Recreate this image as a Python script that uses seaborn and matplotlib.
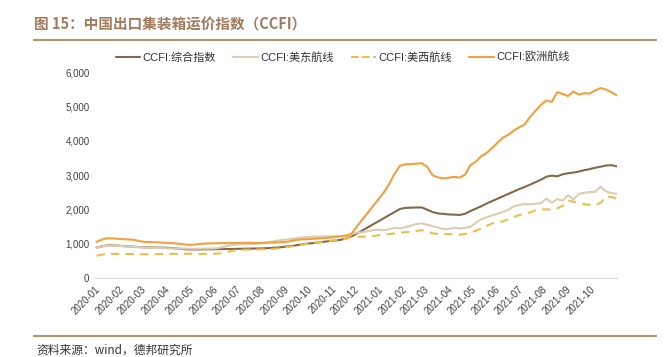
import numpy as np
import pandas as pd
import matplotlib
matplotlib.use('Agg')
import matplotlib.pyplot as plt
import matplotlib.dates as mdates
from matplotlib.lines import Line2D
import seaborn as sns

# weekly CCFI readings, first week of 2020 to early Nov 2021
dates = pd.date_range('2020-01-03', periods = 97, freq = '7D')

composite = [895, 930, 960, 958, 950, 940, 930, 920, 910, 902, 898, 895, 893, 890, 880, 865, 850, 842, 840, 842,
             845, 846, 848, 850, 852, 855, 858, 862, 865, 868, 870, 875, 882, 892, 905, 925, 945, 965, 990, 1010,
             1030, 1045, 1065, 1085, 1100, 1120, 1160, 1215, 1300, 1390, 1480, 1570, 1660, 1750, 1840, 1930, 2020, 2050, 2058, 2062,
             2064, 2000, 1930, 1890, 1875, 1860, 1855, 1845, 1880, 1960, 2030, 2100, 2180, 2250, 2320, 2390, 2460, 2530, 2600, 2660,
             2730, 2800, 2870, 2960, 2990, 2970, 3030, 3060, 3080, 3110, 3150, 3180, 3220, 3250, 3285, 3295, 3260]

us_east = [890, 930, 955, 950, 945, 935, 925, 915, 905, 895, 890, 885, 880, 875, 870, 868, 865, 862, 860, 862,
           865, 868, 875, 900, 940, 970, 985, 990, 995, 1000, 1010, 1030, 1060, 1090, 1110, 1130, 1150, 1170, 1190, 1205,
           1210, 1215, 1220, 1220, 1225, 1230, 1235, 1280, 1330, 1340, 1370, 1400, 1420, 1400, 1430, 1470, 1450, 1490, 1530, 1580,
           1600, 1560, 1520, 1480, 1430, 1440, 1470, 1450, 1470, 1500, 1620, 1720, 1780, 1830, 1880, 1930, 2000, 2100, 2130, 2170,
           2150, 2170, 2190, 2320, 2200, 2310, 2260, 2420, 2300, 2460, 2490, 2510, 2520, 2670, 2530, 2480, 2460]

us_west = [660, 690, 705, 710, 710, 708, 705, 705, 702, 700, 700, 705, 708, 710, 712, 712, 715, 715, 712, 712,
           712, 715, 718, 730, 760, 800, 820, 830, 835, 838, 840, 845, 850, 860, 880, 905, 930, 955, 980, 1005,
           1030, 1050, 1070, 1090, 1110, 1130, 1150, 1200, 1210, 1210, 1215, 1230, 1250, 1275, 1290, 1310, 1330, 1345, 1355, 1380,
           1400, 1360, 1310, 1290, 1285, 1290, 1275, 1270, 1290, 1330, 1390, 1450, 1530, 1600, 1630, 1660, 1720, 1790, 1840, 1880,
           1920, 1980, 2000, 2010, 2000, 2040, 2110, 2270, 2230, 2180, 2160, 2140, 2130, 2200, 2380, 2370, 2320]

europe = [1060, 1130, 1165, 1160, 1150, 1140, 1130, 1120, 1080, 1060, 1055, 1050, 1040, 1030, 1025, 1010, 990, 975, 980, 1000,
          1010, 1015, 1020, 1025, 1025, 1030, 1030, 1035, 1035, 1030, 1030, 1035, 1040, 1045, 1050, 1060, 1090, 1120, 1135, 1140,
          1150, 1160, 1170, 1185, 1200, 1220, 1250, 1290, 1500, 1700, 1900, 2100, 2300, 2500, 2750, 3050, 3280, 3320, 3325, 3340,
          3350, 3250, 3000, 2940, 2910, 2930, 2955, 2935, 3020, 3300, 3400, 3560, 3650, 3800, 3950, 4100, 4180, 4300, 4400, 4480,
          4700, 4880, 5050, 5180, 5140, 5420, 5370, 5310, 5440, 5350, 5390, 5380, 5470, 5540, 5500, 5420, 5330]

names = ['CCFI:综合指数', 'CCFI:美东航线', 'CCFI:美西航线', 'CCFI:欧洲航线']
colors = ['#85684A', '#DDCDB0', '#EDBE4A', '#F2A03D']
month_ticks = pd.date_range('2020-01-01', '2021-10-01', freq = 'MS')

df = pd.DataFrame({'date': dates, names[0]: composite, names[1]: us_east, names[2]: us_west, names[3]: europe})
long = df.melt(id_vars = 'date', var_name = 'series', value_name = 'value')

sns.set_style('white')
plt.rcParams['font.family'] = ['Liberation Sans', 'Noto Sans CJK SC', 'DejaVu Sans']

fig = plt.figure(figsize = (6.69, 3.57), dpi = 100)
ax = fig.add_axes([0.142, 0.2204, 0.780, 0.5771])
pal = dict(zip(names, colors))
dashes = {names[0]: '', names[1]: '', names[2]: (4, 3), names[3]: ''}
sns.lineplot(data = long, x = 'date', y = 'value', hue = 'series', style = 'series', palette = pal,
             dashes = dashes, linewidth = 1.5, legend = False, ax = ax)

ax.set_xlim(pd.Timestamp('2020-01-01'), pd.Timestamp('2021-11-05'))
ax.set_ylim(0, 6000)
ax.set_yticks(range(0, 6001, 1000))
ax.yaxis.set_major_formatter(matplotlib.ticker.FuncFormatter(lambda v, p: '{:,.0f}'.format(v)))
ax.set_xticks(month_ticks)
ax.xaxis.set_major_formatter(mdates.DateFormatter('%Y-%m'))
plt.setp(ax.get_xticklabels(), rotation = 45, ha = 'right', rotation_mode = 'anchor')
ax.tick_params(axis = 'both', length = 0, labelsize = 7, colors = '#404040', pad = 4)
ax.set_xlabel(''); ax.set_ylabel('')
for s in ['top', 'right', 'left']:
    ax.spines[s].set_visible(False)
ax.spines['bottom'].set_color('#D9D9D9')
ax.spines['bottom'].set_linewidth(0.8)

handles = [Line2D([0], [0], color = c, lw = 1.5, ls = '--' if n == names[2] else '-') for n, c in zip(names, colors)]
fig.legend(handles, names, loc = 'center', bbox_to_anchor = (0.512, 0.840), ncol = 4, frameon = False,
           fontsize = 8, handlelength = 2.2, handletextpad = 0.2, columnspacing = 1.6, labelcolor = '#333333')

fig.text(0.051, 0.930, '图 15：中国出口集装箱运价指数（CCFI）', fontsize = 10.5, fontweight = 'bold',
         color = '#A27B5C', va = 'center', family = ['Noto Sans CJK SC', 'DejaVu Sans'])
fig.add_artist(Line2D([0.051, 0.981], [0.888, 0.888], color = '#B8916E', lw = 1.5))
fig.add_artist(Line2D([0.051, 0.981], [0.059, 0.059], color = '#B8916E', lw = 1.5))
fig.text(0.054, 0.020, '资料来源：wind，德邦研究所', fontsize = 8.5, color = '#333333', va = 'center',
         family = ['Noto Sans CJK SC', 'DejaVu Sans'])

fig.savefig('out.png', dpi = 100)
